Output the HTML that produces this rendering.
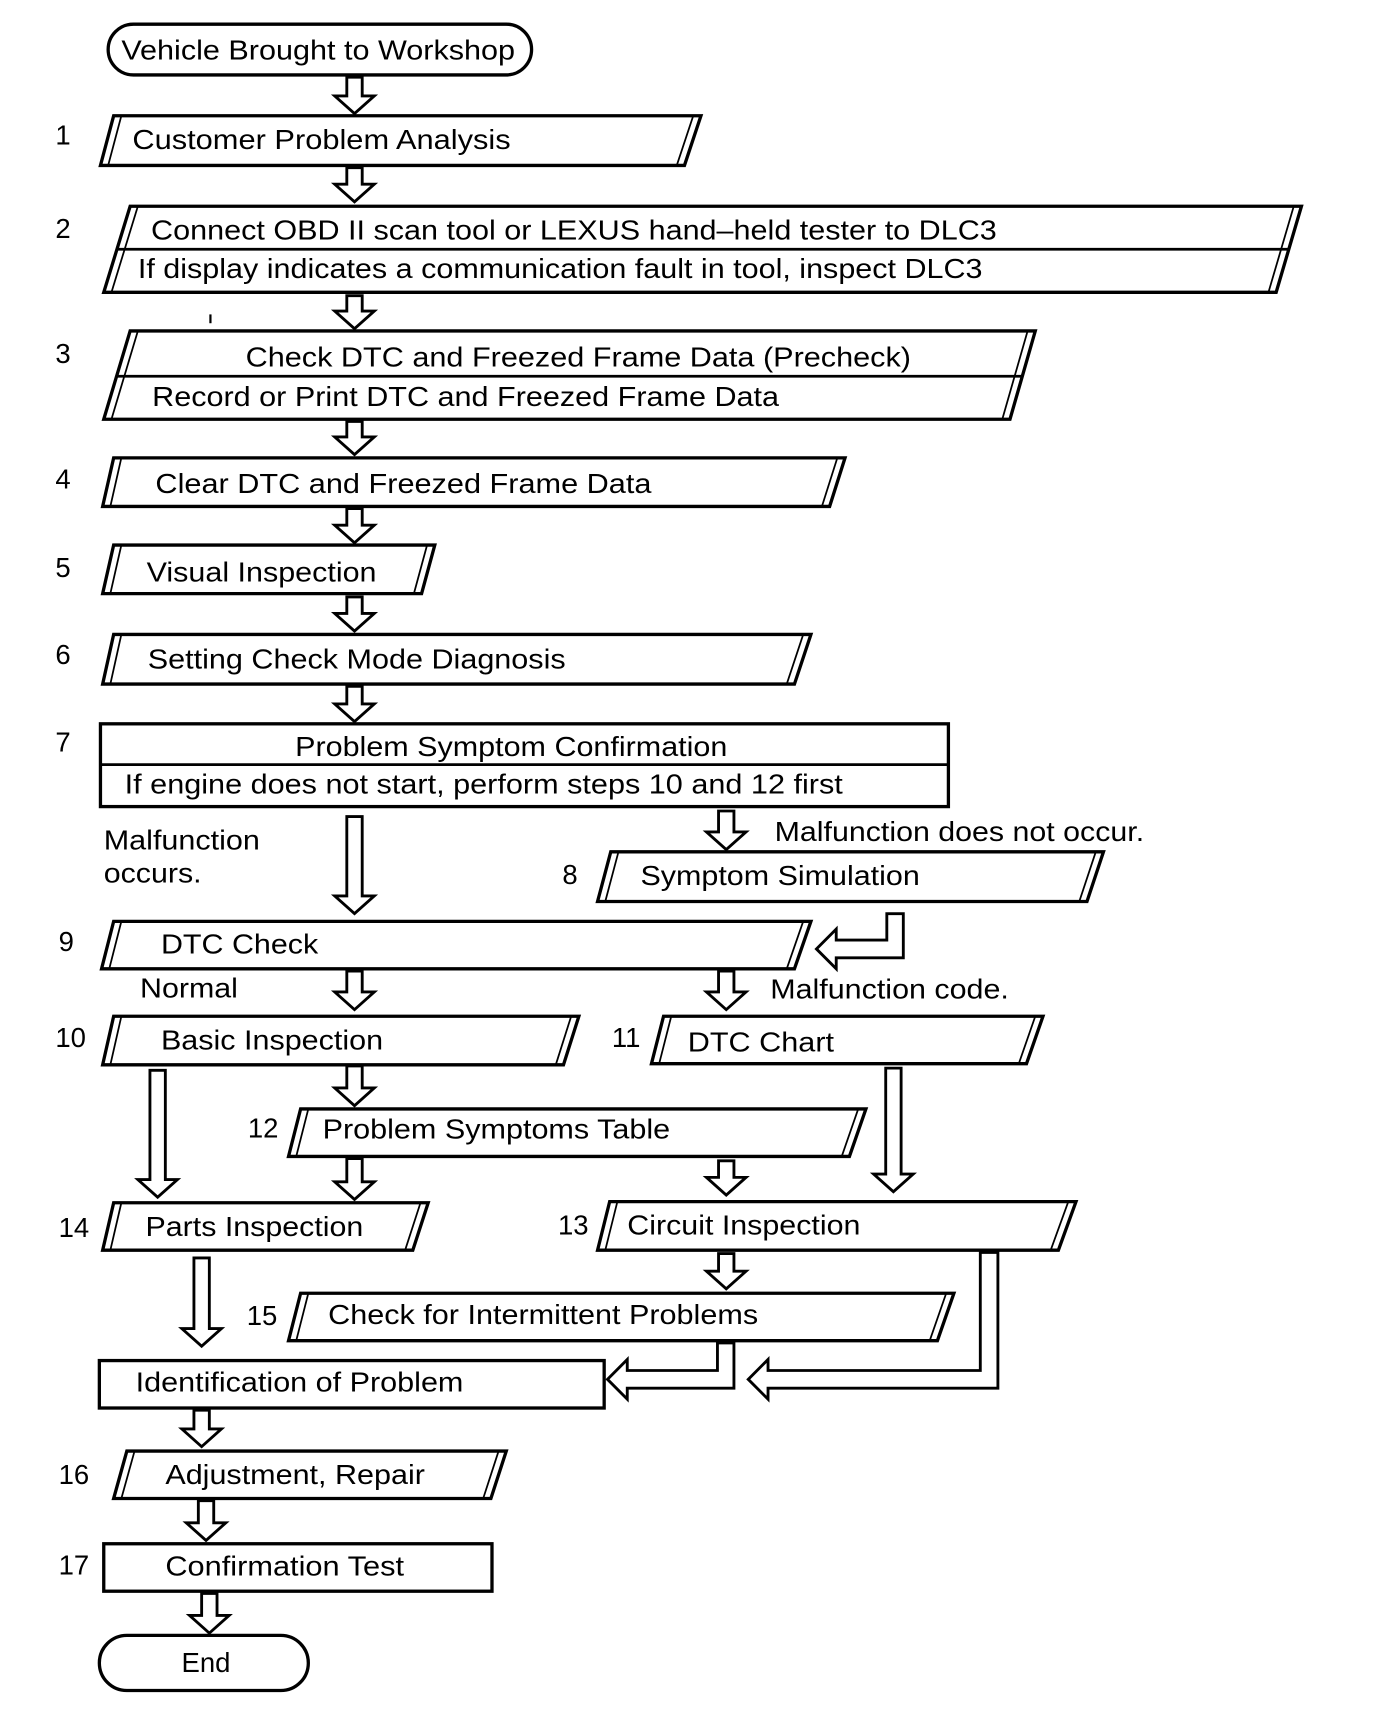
<!DOCTYPE html>
<html><head><meta charset="utf-8"><style>
html,body{margin:0;padding:0;background:#fff;}
svg{display:block;}
text{font-family:"Liberation Sans",Arial,sans-serif;font-size:25px;fill:#000;}
.b{fill:#fff;stroke:#000;stroke-width:3;stroke-linejoin:miter;}
.t{fill:none;stroke:#000;stroke-width:1.6;}
.a{fill:#fff;stroke:#000;stroke-width:2.6;stroke-linejoin:miter;}
</style></head><body>
<svg width="1392" height="1730" viewBox="0 0 1265 1573" xmlns="http://www.w3.org/2000/svg">
<g transform="translate(0,-0.1) scale(1,1.0034)">
<rect class="b" x="98" y="22" width="385" height="46" rx="23"/>
<text x="110" y="54" textLength="358" lengthAdjust="spacingAndGlyphs">Vehicle Brought to Workshop</text>

<polygon class="a" points="315,70 329,70 329,87 340,87 322,103 304,87 315,87"/>
<polygon class="a" points="315,152 329,152 329,167 340,167 322,183 304,167 315,167"/>
<polygon class="a" points="315,268 329,268 329,282 340,282 322,298 304,282 315,282"/>
<polygon class="a" points="315,382 329,382 329,396 340,396 322,412 304,396 315,396"/>
<polygon class="a" points="315,461 329,461 329,476 340,476 322,492 304,476 315,476"/>
<polygon class="a" points="315,541 329,541 329,556 340,556 322,572 304,556 315,556"/>
<polygon class="a" points="315,622 329,622 329,638 340,638 322,654 304,638 315,638"/>
<polygon class="a" points="315,740 329,740 329,812 340,812 322,828 304,812 315,812"/>
<polygon class="a" points="653,735 667,735 667,754 678,754 660,770 642,754 653,754"/>
<polygon class="a" points="315,880 329,880 329,899 340,899 322,915 304,899 315,899"/>
<polygon class="a" points="653,880 667,880 667,899 678,899 660,915 642,899 653,899"/>
<polygon class="a" points="136,970 150,970 150,1069 161,1069 143,1085 125,1069 136,1069"/>
<polygon class="a" points="315,966 329,966 329,986 340,986 322,1002 304,986 315,986"/>
<polygon class="a" points="805,968 819,968 819,1064 830,1064 812,1080 794,1064 805,1064"/>
<polygon class="a" points="315,1050 329,1050 329,1071 340,1071 322,1087 304,1071 315,1071"/>
<polygon class="a" points="653,1052 667,1052 667,1067 678,1067 660,1083 642,1067 653,1067"/>
<polygon class="a" points="653,1136 667,1136 667,1152 678,1152 660,1168 642,1152 653,1152"/>
<polygon class="a" points="176,1140 190,1140 190,1204 201,1204 183,1220 165,1204 176,1204"/>
<polygon class="a" points="176,1278 190,1278 190,1295 201,1295 183,1311 165,1295 176,1295"/>
<polygon class="a" points="180,1360 194,1360 194,1380 205,1380 187,1396 169,1380 180,1380"/>
<polygon class="a" points="183,1444 197,1444 197,1464 208,1464 190,1480 172,1464 183,1464"/>
<line x1="191" y1="285" x2="191" y2="293" stroke="#000" stroke-width="2"/>

<polygon class="a" points="806,828 821,828 821,868 760,868 760,878 742,860 760,842 760,852 806,852"/>
<polygon class="a" points="891,1135 907,1135 907,1258 698,1258 698,1268 680,1250 698,1232 698,1242 891,1242"/>
<polygon class="a" points="652,1217 667,1217 667,1258 570,1258 570,1268 552,1250 570,1232 570,1242 652,1242"/>

<polygon class="b" points="103,105 637,105 622,150 91,150"/>
<line class="t" x1="110" y1="105" x2="98" y2="150"/><line class="t" x1="630" y1="105" x2="615" y2="150"/>
<text x="120" y="135" textLength="344" lengthAdjust="spacingAndGlyphs">Customer Problem Analysis</text>
<text x="50" y="131">1</text>

<polygon class="b" points="118,187 1183,187 1160,265 94,265"/>
<line class="t" x1="125" y1="187" x2="101" y2="265"/><line class="t" x1="1176" y1="187" x2="1153" y2="265"/>
<line x1="106" y1="226" x2="1171" y2="226" stroke="#000" stroke-width="2.5"/>
<text x="137" y="217" textLength="769" lengthAdjust="spacingAndGlyphs">Connect OBD II scan tool or LEXUS hand–held tester to DLC3</text>
<text x="125" y="252" textLength="768" lengthAdjust="spacingAndGlyphs">If display indicates a communication fault in tool, inspect DLC3</text>
<text x="50" y="216">2</text>

<polygon class="b" points="118,300 941,300 918,380 94,380"/>
<line class="t" x1="125" y1="300" x2="101" y2="380"/><line class="t" x1="934" y1="300" x2="911" y2="380"/>
<line x1="106" y1="341" x2="929" y2="341" stroke="#000" stroke-width="2.5"/>
<text x="223" y="332" textLength="605" lengthAdjust="spacingAndGlyphs">Check DTC and Freezed Frame Data (Precheck)</text>
<text x="138" y="368" textLength="570" lengthAdjust="spacingAndGlyphs">Record or Print DTC and Freezed Frame Data</text>
<text x="50" y="329">3</text>

<polygon class="b" points="103,415 768,415 754,459 93,459"/>
<line class="t" x1="110" y1="415" x2="100" y2="459"/><line class="t" x1="761" y1="415" x2="747" y2="459"/>
<text x="141" y="447" textLength="451" lengthAdjust="spacingAndGlyphs">Clear DTC and Freezed Frame Data</text>
<text x="50" y="443">4</text>

<polygon class="b" points="103,494 395,494 383,538 93,538"/>
<line class="t" x1="110" y1="494" x2="100" y2="538"/><line class="t" x1="388" y1="494" x2="376" y2="538"/>
<text x="133" y="527" textLength="209" lengthAdjust="spacingAndGlyphs">Visual Inspection</text>
<text x="50" y="523">5</text>

<polygon class="b" points="103,575 737,575 722,620 93,620"/>
<line class="t" x1="110" y1="575" x2="100" y2="620"/><line class="t" x1="730" y1="575" x2="715" y2="620"/>
<text x="134" y="606" textLength="380" lengthAdjust="spacingAndGlyphs">Setting Check Mode Diagnosis</text>
<text x="50" y="602">6</text>

<rect class="b" x="91" y="656" width="771" height="75"/>
<line x1="91" y1="693" x2="862" y2="693" stroke="#000" stroke-width="2.5"/>
<text x="268" y="685" textLength="393" lengthAdjust="spacingAndGlyphs">Problem Symptom Confirmation</text>
<text x="113" y="719" textLength="653" lengthAdjust="spacingAndGlyphs">If engine does not start, perform steps 10 and 12 first</text>
<text x="50" y="681">7</text>

<text x="94" y="770" textLength="142" lengthAdjust="spacingAndGlyphs">Malfunction</text>
<text x="94" y="800" textLength="89" lengthAdjust="spacingAndGlyphs">occurs.</text>
<text x="704" y="762" textLength="336" lengthAdjust="spacingAndGlyphs">Malfunction does not occur.</text>

<polygon class="b" points="555,772 1003,772 988,817 543,817"/>
<line class="t" x1="562" y1="772" x2="550" y2="817"/><line class="t" x1="996" y1="772" x2="981" y2="817"/>
<text x="582" y="802" textLength="254" lengthAdjust="spacingAndGlyphs">Symptom Simulation</text>
<text x="511" y="801">8</text>

<polygon class="b" points="103,835 737,835 722,878 92,878"/>
<line class="t" x1="110" y1="835" x2="99" y2="878"/><line class="t" x1="730" y1="835" x2="715" y2="878"/>
<text x="146" y="864" textLength="143" lengthAdjust="spacingAndGlyphs">DTC Check</text>
<text x="53" y="862">9</text>

<text x="127" y="904" textLength="89" lengthAdjust="spacingAndGlyphs">Normal</text>
<text x="700" y="905" textLength="217" lengthAdjust="spacingAndGlyphs">Malfunction code.</text>

<polygon class="b" points="103,921 526,921 512,965 93,965"/>
<line class="t" x1="110" y1="921" x2="100" y2="965"/><line class="t" x1="519" y1="921" x2="505" y2="965"/>
<text x="146" y="951" textLength="202" lengthAdjust="spacingAndGlyphs">Basic Inspection</text>
<text x="50" y="949">10</text>

<polygon class="b" points="603,921 948,921 933,964 592,964"/>
<line class="t" x1="610" y1="921" x2="599" y2="964"/><line class="t" x1="941" y1="921" x2="926" y2="964"/>
<text x="625" y="953" textLength="133" lengthAdjust="spacingAndGlyphs">DTC Chart</text>
<text x="556" y="949">11</text>

<polygon class="b" points="273,1005 787,1005 772,1048 262,1048"/>
<line class="t" x1="280" y1="1005" x2="269" y2="1048"/><line class="t" x1="780" y1="1005" x2="765" y2="1048"/>
<text x="293" y="1032" textLength="316" lengthAdjust="spacingAndGlyphs">Problem Symptoms Table</text>
<text x="225" y="1031">12</text>

<polygon class="b" points="103,1090 389,1090 375,1133 93,1133"/>
<line class="t" x1="110" y1="1090" x2="100" y2="1133"/><line class="t" x1="382" y1="1090" x2="368" y2="1133"/>
<text x="132" y="1120" textLength="198" lengthAdjust="spacingAndGlyphs">Parts Inspection</text>
<text x="53" y="1121">14</text>

<polygon class="b" points="554,1089 978,1089 962,1133 543,1133"/>
<line class="t" x1="561" y1="1089" x2="550" y2="1133"/><line class="t" x1="971" y1="1089" x2="955" y2="1133"/>
<text x="570" y="1119" textLength="212" lengthAdjust="spacingAndGlyphs">Circuit Inspection</text>
<text x="507" y="1119">13</text>

<polygon class="b" points="273,1172 867,1172 852,1215 262,1215"/>
<line class="t" x1="280" y1="1172" x2="269" y2="1215"/><line class="t" x1="860" y1="1172" x2="845" y2="1215"/>
<text x="298" y="1200" textLength="391" lengthAdjust="spacingAndGlyphs">Check for Intermittent Problems</text>
<text x="224" y="1201">15</text>

<rect class="b" x="90" y="1233" width="459" height="43"/>
<text x="123" y="1261" textLength="298" lengthAdjust="spacingAndGlyphs">Identification of Problem</text>

<polygon class="b" points="115,1315 460,1315 446,1358 103,1358"/>
<line class="t" x1="122" y1="1315" x2="110" y2="1358"/><line class="t" x1="453" y1="1315" x2="439" y2="1358"/>
<text x="150" y="1345" textLength="236" lengthAdjust="spacingAndGlyphs">Adjustment, Repair</text>
<text x="53" y="1345">16</text>

<rect class="b" x="94" y="1399" width="353" height="43"/>
<text x="150" y="1428" textLength="217" lengthAdjust="spacingAndGlyphs">Confirmation Test</text>
<text x="53" y="1427">17</text>

<rect class="b" x="90" y="1482" width="190" height="50" rx="25"/>
<text x="187" y="1515" text-anchor="middle">End</text>
</g>
</svg>
</body></html>
